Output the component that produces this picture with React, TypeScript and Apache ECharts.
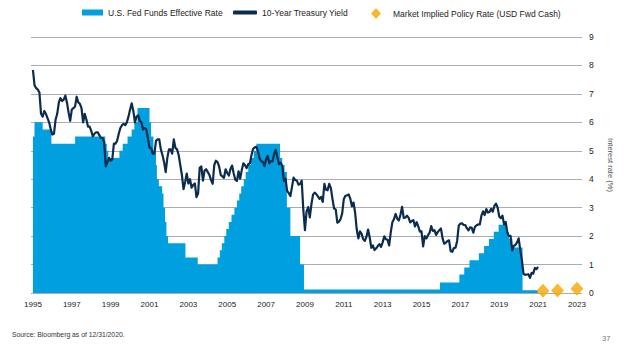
import React, { useEffect, useRef } from "react";
import * as echarts from "echarts";

// Fed funds effective rate: [date (year fraction), rate] change points
const fedFundsSteps: [number, number][] = [
  [1995.0, 5.5], [1995.08, 6.0], [1995.5, 5.75], [1995.95, 5.25], [1997.17, 5.5],
  [1998.72, 5.25], [1998.8, 5.0], [1998.88, 4.75], [1999.45, 5.0], [1999.62, 5.25],
  [1999.87, 5.5], [2000.08, 5.75], [2000.22, 6.0], [2000.38, 6.5], [2001.0, 6.0],
  [2001.08, 5.5], [2001.2, 5.0], [2001.33, 4.5], [2001.38, 4.0], [2001.48, 3.75],
  [2001.65, 3.5], [2001.72, 3.0], [2001.8, 2.5], [2001.87, 2.0], [2001.95, 1.75],
  [2002.85, 1.25], [2003.48, 1.0], [2004.5, 1.25], [2004.62, 1.5], [2004.72, 1.75],
  [2004.85, 2.0], [2004.95, 2.25], [2005.08, 2.5], [2005.22, 2.75], [2005.37, 3.0],
  [2005.5, 3.25], [2005.62, 3.5], [2005.72, 3.75], [2005.85, 4.0], [2005.95, 4.25],
  [2006.08, 4.5], [2006.22, 4.75], [2006.37, 5.0], [2006.5, 5.25], [2007.72, 4.75],
  [2007.83, 4.5], [2007.95, 4.25], [2008.07, 3.0], [2008.25, 2.0], [2008.75, 1.0],
  [2008.95, 0.12], [2015.95, 0.37], [2016.95, 0.65], [2017.2, 0.9], [2017.47, 1.15],
  [2017.95, 1.4], [2018.22, 1.65], [2018.47, 1.9], [2018.72, 2.15], [2018.97, 2.4],
  [2019.35, 2.15], [2019.5, 1.9], [2019.67, 1.6], [2020.2, 0.1], [2020.99, 0.1],
];

// 10-year Treasury yield, month-end values (Jan..Dec) per year
const treasuryStart = 7.84; // end of 1994
const treasuryYears: number[] = [
  1995, 1996, 1997, 1998, 1999, 2000, 2001, 2002, 2003, 2004, 2005, 2006, 2007,
  2008, 2009, 2010, 2011, 2012, 2013, 2014, 2015, 2016, 2017, 2018, 2019, 2020,
];
const treasuryMonthly: number[][] = [
  [7.3, 7.2, 7.15, 7.05, 6.3, 6.2, 6.4, 6.3, 6.15, 6.0, 5.75, 5.57],
  [5.6, 6.1, 6.3, 6.7, 6.85, 6.75, 6.8, 6.94, 6.7, 6.35, 6.05, 6.45],
  [6.5, 6.55, 6.9, 6.7, 6.65, 6.5, 6.0, 6.3, 6.1, 5.85, 5.85, 5.7],
  [5.5, 5.6, 5.65, 5.65, 5.55, 5.45, 5.45, 5.3, 4.45, 4.6, 4.75, 4.65],
  [4.7, 5.25, 5.25, 5.35, 5.6, 5.8, 5.9, 5.95, 5.9, 6.0, 6.2, 6.45],
  [6.67, 6.4, 6.0, 6.2, 6.25, 6.05, 6.0, 5.75, 5.8, 5.75, 5.45, 5.1],
  [5.1, 4.9, 4.9, 5.35, 5.4, 5.4, 5.05, 4.85, 4.6, 4.25, 4.75, 5.05],
  [5.05, 4.9, 5.4, 5.1, 5.05, 4.85, 4.5, 4.15, 3.65, 3.9, 4.2, 3.85],
  [4.0, 3.7, 3.8, 3.85, 3.37, 3.5, 4.4, 4.45, 3.95, 4.3, 4.35, 4.25],
  [4.15, 3.97, 3.84, 4.5, 4.65, 4.6, 4.45, 4.15, 4.1, 4.05, 4.35, 4.22],
  [4.13, 4.36, 4.48, 4.2, 3.98, 3.94, 4.28, 4.02, 4.33, 4.56, 4.49, 4.39],
  [4.53, 4.55, 4.85, 5.07, 5.12, 5.14, 4.98, 4.73, 4.63, 4.61, 4.46, 4.7],
  [4.82, 4.56, 4.64, 4.63, 4.89, 5.03, 4.76, 4.53, 4.58, 4.47, 3.94, 4.02],
  [3.59, 3.51, 3.41, 3.73, 4.06, 3.97, 3.95, 3.81, 3.83, 3.95, 2.92, 2.21],
  [2.87, 3.02, 2.66, 3.12, 3.46, 3.53, 3.48, 3.4, 3.31, 3.38, 3.2, 3.84],
  [3.63, 3.61, 3.84, 3.69, 3.31, 2.97, 2.94, 2.47, 2.51, 2.6, 2.8, 3.3],
  [3.42, 3.43, 3.47, 3.32, 3.05, 3.18, 2.82, 2.23, 1.92, 2.17, 2.08, 1.89],
  [1.83, 1.98, 2.23, 1.95, 1.59, 1.67, 1.51, 1.57, 1.65, 1.72, 1.62, 1.78],
  [1.99, 1.89, 1.87, 1.67, 2.13, 2.49, 2.6, 2.78, 2.61, 2.55, 2.75, 3.03],
  [2.64, 2.65, 2.72, 2.65, 2.48, 2.53, 2.56, 2.34, 2.49, 2.34, 2.16, 2.17],
  [1.64, 2.0, 1.92, 2.03, 2.12, 2.35, 2.18, 2.21, 2.04, 2.14, 2.21, 2.27],
  [1.92, 1.73, 1.77, 1.83, 1.85, 1.47, 1.45, 1.58, 1.59, 1.83, 2.37, 2.44],
  [2.45, 2.39, 2.39, 2.28, 2.2, 2.31, 2.29, 2.12, 2.33, 2.38, 2.41, 2.41],
  [2.72, 2.87, 2.74, 2.95, 2.83, 2.85, 2.96, 2.86, 3.06, 3.14, 3.01, 2.69],
  [2.63, 2.72, 2.41, 2.5, 2.12, 2.0, 2.01, 1.5, 1.66, 1.69, 1.78, 1.92],
  [1.51, 1.15, 0.67, 0.64, 0.65, 0.66, 0.53, 0.71, 0.68, 0.88, 0.84, 0.92],
];

// Market implied policy rate (USD Fwd Cash)
const impliedDates: number[] = [2021.25, 2022.0, 2023.0];
const impliedRates: number[] = [0.08, 0.09, 0.15];

const xTickLabels: number[] = [
  1995, 1997, 1999, 2001, 2003, 2005, 2007, 2009, 2011, 2013, 2015, 2017, 2019, 2021, 2023,
];

const FONT = "'Liberation Sans', Arial, sans-serif";
const BLUE = "#009fdf";
const NAVY = "#0c2c4e";
const ORANGE = "#f5a800";

export default function App() {
  const ref = useRef<HTMLDivElement>(null);
  useEffect(() => {
    if (!ref.current) return;
    const chart = echarts.init(ref.current, undefined, { renderer: "svg" });

    const treasuryData: [number, number][] = [[1995.0, treasuryStart]];
    treasuryYears.forEach((y, i) => {
      treasuryMonthly[i].forEach((v, m) => {
        treasuryData.push([y + (m + 1) / 12, v]);
      });
    });
    const impliedData = impliedDates.map((d, i) => [d, impliedRates[i]]);

    const legendBase = {
      top: 8,
      padding: 0,
      textStyle: { fontFamily: FONT, fontSize: 8.5, color: "#222" },
      selectedMode: false,
    };

    chart.setOption({
      animation: false,
      textStyle: { fontFamily: FONT },
      grid: { left: 31, right: 42, top: 37, bottom: 54 },
      legend: [
        {
          ...legendBase,
          left: 82,
          itemWidth: 21,
          itemHeight: 6,
          data: [{ name: "U.S. Fed Funds Effective Rate", icon: "rect", itemStyle: { color: BLUE } }],
        },
        {
          ...legendBase,
          left: 233,
          itemWidth: 24,
          itemHeight: 4,
          data: [{ name: "10-Year Treasury Yield", icon: "roundRect", itemStyle: { color: NAVY } }],
        },
        {
          ...legendBase,
          left: 371,
          itemWidth: 10,
          itemHeight: 11,
          textStyle: { ...legendBase.textStyle, padding: [0, 0, 0, 7] },
          data: [{ name: "Market Implied Policy Rate (USD Fwd Cash)", icon: "diamond", itemStyle: { color: ORANGE } }],
        },
      ],
      xAxis: {
        type: "value",
        min: 1994.9,
        max: 2023.26,
        axisLine: { show: false },
        axisTick: { show: false },
        splitLine: { show: false },
        axisLabel: {
          customValues: xTickLabels,
          margin: 7,
          fontSize: 8,
          color: "#222",
          fontFamily: FONT,
          formatter: (v: number) => String(v),
        },
      },
      yAxis: {
        type: "value",
        position: "right",
        min: 0,
        max: 9,
        interval: 1,
        axisLine: { show: false },
        axisTick: { show: false },
        splitLine: { lineStyle: { color: "#a9adb2", width: 1.2 } },
        axisLabel: { margin: 7, fontSize: 8.5, color: "#222", fontFamily: FONT },
        name: "Interest rate (%)",
        nameLocation: "middle",
        nameRotate: -90,
        nameGap: 24,
        nameTextStyle: { fontSize: 7.5, color: "#555", fontFamily: FONT },
      },
      series: [
        {
          name: "U.S. Fed Funds Effective Rate",
          type: "line",
          step: "end",
          data: fedFundsSteps,
          symbol: "none",
          color: BLUE,
          lineStyle: { width: 0, color: BLUE },
          areaStyle: { color: BLUE, opacity: 1 },
          z: 2,
        },
        {
          name: "10-Year Treasury Yield",
          type: "line",
          data: treasuryData,
          symbol: "none",
          color: NAVY,
          lineStyle: { width: 2.2, color: NAVY, join: "round" },
          z: 3,
        },
        {
          name: "Market Implied Policy Rate (USD Fwd Cash)",
          type: "scatter",
          data: impliedData,
          symbol: "diamond",
          symbolSize: [13, 14],
          color: ORANGE,
          itemStyle: { color: ORANGE },
          z: 4,
        },
      ],
      graphic: [
        {
          type: "text",
          left: 12,
          top: 331,
          style: { text: "Source: Bloomberg as of 12/31/2020.", fontSize: 6.8, fill: "#333", fontFamily: FONT },
        },
        {
          type: "text",
          left: 602,
          top: 334,
          style: { text: "37", fontSize: 7.5, fill: "#777", fontFamily: FONT },
        },
      ],
    });
    return () => chart.dispose();
  }, []);
  return <div ref={ref} style={{ width: 624, height: 347, position: "absolute", left: 0, top: 0 }} />;
}
